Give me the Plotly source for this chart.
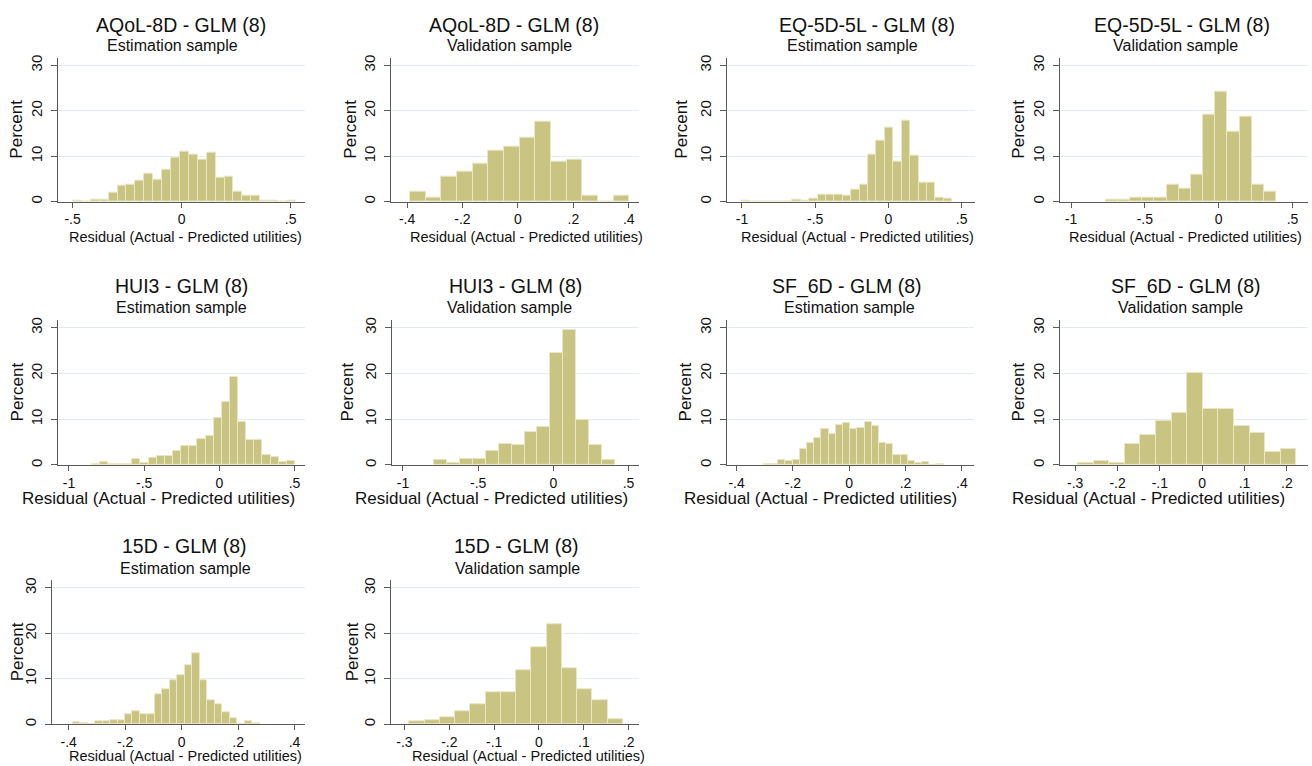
import plotly.graph_objects as go

# ---------------- data (bin start, bin width, percent per bin) ----------------
aqol_est_start, aqol_est_width = -0.4985, 0.0409
aqol_est_pct = [0.3, 0.1, 0.5, 0.5, 2.0, 3.5, 3.8, 4.7, 6.2, 4.9, 7.0, 9.8, 11.0,
                10.3, 9.3, 10.8, 5.2, 5.5, 2.3, 1.3, 1.3, 0.2, 0.2, 0.0, 0.2]

aqol_val_start, aqol_val_width = -0.390, 0.0566
aqol_val_pct = [2.3, 0.9, 5.6, 6.6, 8.4, 11.2, 12.2, 14.0, 17.7, 8.9, 9.3, 1.4, 0.0, 1.4]

eq_est_start, eq_est_width = -1.0, 0.0574
eq_est_pct = [0.2, 0.0, 0.0, 0.0, 0.0, 0.0, 0.4, 0.2, 0.7, 1.5, 1.6, 1.6, 1.4,
              2.6, 3.8, 10.4, 13.4, 16.4, 8.8, 17.8, 10.1, 4.1, 4.1, 1.0, 0.7]

eq_val_start, eq_val_width = -0.765, 0.0824
eq_val_pct = [0.5, 0.5, 0.9, 0.9, 0.9, 3.8, 2.8, 6.0, 19.1, 24.2, 15.4, 18.8, 3.8, 2.3]

hui_est_start, hui_est_width = -0.849, 0.0541
hui_est_pct = [0.3, 0.6, 0.2, 0.3, 0.2, 1.3, 0.5, 1.6, 2.0, 1.9, 3.1, 4.1, 4.1,
               5.6, 6.3, 10.2, 13.7, 19.3, 9.3, 5.5, 5.4, 2.2, 1.7, 0.7, 0.8]

hui_val_start, hui_val_width = -0.792, 0.0858
hui_val_pct = [1.0, 0.5, 1.4, 1.4, 3.0, 4.7, 4.3, 7.2, 8.4, 24.4, 29.6, 9.8, 4.3, 1.0]

sf_est_start, sf_est_width = -0.303, 0.02556
sf_est_pct = [0.3, 0.2, 1.2, 0.8, 1.2, 3.6, 4.8, 5.9, 7.8, 6.7, 8.7, 9.1, 7.8,
              8.0, 9.5, 8.5, 4.9, 4.7, 2.3, 2.1, 0.8, 0.5, 0.6, 0.0, 0.3]

sf_val_start, sf_val_width = -0.293, 0.0368
sf_val_pct = [0.5, 0.9, 0.5, 4.7, 6.5, 9.7, 11.3, 20.1, 12.2, 12.2, 8.5, 7.1, 2.9, 3.4]

d15_est_start, d15_est_width = -0.386, 0.0265
d15_est_pct = [0.4, 0.2, 0.0, 0.6, 0.7, 0.9, 0.9, 2.3, 2.8, 2.2, 2.2, 6.6, 7.7,
               9.7, 10.8, 12.9, 15.7, 9.6, 5.2, 4.4, 2.6, 1.3, 0.1, 0.7, 0.2]

d15_val_start, d15_val_width = -0.289, 0.034
d15_val_pct = [0.6, 1.0, 1.5, 2.9, 4.4, 7.1, 7.1, 11.9, 17.0, 22.0, 12.4, 7.7, 5.3, 1.1]

titles = ["AQoL-8D - GLM (8)", "AQoL-8D - GLM (8)", "EQ-5D-5L - GLM (8)", "EQ-5D-5L - GLM (8)",
          "HUI3 - GLM (8)", "HUI3 - GLM (8)", "SF_6D - GLM (8)", "SF_6D - GLM (8)",
          "15D - GLM (8)", "15D - GLM (8)"]
subtitles = ["Estimation sample", "Validation sample"] * 5

ticks_a = [-0.5, 0, 0.5]
ticks_a_txt = ["-.5", "0", ".5"]
ticks_b = [-0.4, -0.2, 0, 0.2, 0.4]
ticks_b_txt = ["-.4", "-.2", "0", ".2", ".4"]
ticks_c = [-1, -0.5, 0, 0.5]
ticks_c_txt = ["-1", "-.5", "0", ".5"]
ticks_d = [-0.3, -0.2, -0.1, 0, 0.1, 0.2]
ticks_d_txt = ["-.3", "-.2", "-.1", "0", ".1", ".2"]
y_ticks = [0, 10, 20, 30]
y_ticks_txt = ["0", "10", "20", "30"]

x_title = "Residual (Actual - Predicted utilities)"
y_title = "Percent"

# ---------------- layout geometry (pixels) ----------------
W, H = 1312, 766
# data, ticks, ticktext, xrange, (left, right, top, baseline), title_x, sub_x, xt_x, yt_x, row
panels = [
    ((aqol_est_start, aqol_est_width, aqol_est_pct), ticks_a, ticks_a_txt, [-0.567, 0.566], (58, 305, 55, 200), 181, 172, 186, 17, 0),
    ((aqol_val_start, aqol_val_width, aqol_val_pct), ticks_b, ticks_b_txt, [-0.458, 0.437], (391, 639, 55, 200), 514, 509, 526, 351, 0),
    ((eq_est_start, eq_est_width, eq_est_pct), ticks_c, ticks_c_txt, [-1.102, 0.591], (727, 975, 55, 200), 867, 852, 857, 682, 0),
    ((eq_val_start, eq_val_width, eq_val_pct), ticks_c, ticks_c_txt, [-1.075, 0.605], (1060, 1308, 55, 200), 1182, 1175, 1185, 1019, 0),
    ((hui_est_start, hui_est_width, hui_est_pct), ticks_c, ticks_c_txt, [-1.073, 0.570], (58, 305, 319, 465), 181, 181, 158, 17, 1),
    ((hui_val_start, hui_val_width, hui_val_pct), ticks_c, ticks_c_txt, [-1.073, 0.570], (392, 639, 319, 465), 515, 509, 491, 347, 1),
    ((sf_est_start, sf_est_width, sf_est_pct), ticks_b, ticks_b_txt, [-0.434, 0.443], (727, 974, 319, 465), 847, 849, 820, 685, 1),
    ((sf_val_start, sf_val_width, sf_val_pct), ticks_d, ticks_d_txt, [-0.336, 0.250], (1060, 1308, 319, 465), 1186, 1180, 1148, 1018, 1),
    ((d15_est_start, d15_est_width, d15_est_pct), ticks_b, ticks_b_txt, [-0.459, 0.437], (52, 305, 581, 726), 185, 186, 186, 17, 2),
    ((d15_val_start, d15_val_width, d15_val_pct), ticks_d, ticks_d_txt, [-0.330, 0.223], (391, 639, 581, 726), 516, 517, 528, 352, 2),
]

BAR = "rgb(201,196,129)"
BAR_EDGE = "rgb(234,231,200)"
AXIS = "#5a5a5a"
GRID = "#e0eef2"
FONT = "Liberation Sans, Arial, sans-serif"
TXT = "#111111"

fig = go.Figure()
layout = dict(
    width=W, height=H, margin=dict(l=0, r=0, t=0, b=0),
    paper_bgcolor="white", plot_bgcolor="white", showlegend=False,
    font=dict(family=FONT, color=TXT), bargap=0,
)
annotations = []

def px(x):
    return x / W

def py(y):
    return 1 - y / H

for i, (data, tv, tt, xr, box, tx, sx, xtx, ytx, row) in enumerate(panels):
    start, width, pct = data
    centers = [start + (k + 0.5) * width for k in range(len(pct))]
    n = "" if i == 0 else str(i + 1)
    fig.add_trace(go.Bar(
        x=centers, y=pct, width=[width] * len(pct),
        marker=dict(color=BAR, line=dict(color=BAR_EDGE, width=1)),
        xaxis="x" + n, yaxis="y" + n, hoverinfo="x+y",
    ))
    left, right, top, base = box
    layout["xaxis" + n] = dict(
        domain=[px(left), px(right)], range=xr, anchor="y" + n,
        tickvals=tv, ticktext=tt, showline=True, linecolor=AXIS, linewidth=1,
        ticks="outside", ticklen=5, tickcolor=AXIS, showgrid=False, zeroline=False,
        tickfont=dict(size=14, family=FONT, color=TXT), fixedrange=True,
        ticklabelstandoff=0,
    )
    layout["yaxis" + n] = dict(
        domain=[py(base), py(top)], range=[0, 31.7], anchor="x" + n,
        tickvals=y_ticks, ticktext=y_ticks_txt, tickangle=-90,
        showline=True, linecolor=AXIS, linewidth=1,
        ticks="outside", ticklen=6, tickcolor=AXIS,
        showgrid=True, gridcolor=GRID, gridwidth=1, zeroline=False,
        tickfont=dict(size=15, family=FONT, color=TXT), fixedrange=True,
        ticklabelstandoff=3,
    )
    title_y = [22, 285, 547][row]
    sub_y = [43, 307, 569][row]
    xt_y = [236, 499, 758][row]
    xt_size = [14.5, 17, 14.5][row]
    annotations.append(dict(text=titles[i], x=px(tx), y=py(title_y), xref="paper", yref="paper",
                            showarrow=False, xanchor="center", yanchor="middle",
                            font=dict(size=19.5, family=FONT, color=TXT)))
    annotations.append(dict(text=subtitles[i], x=px(sx), y=py(sub_y), xref="paper", yref="paper",
                            showarrow=False, xanchor="center", yanchor="middle",
                            font=dict(size=16, family=FONT, color=TXT)))
    annotations.append(dict(text=x_title, x=px(xtx), y=py(xt_y), xref="paper", yref="paper",
                            showarrow=False, xanchor="center", yanchor="middle",
                            font=dict(size=xt_size, family=FONT, color=TXT)))
    annotations.append(dict(text=y_title, x=px(ytx), y=py((top + base) / 2), xref="paper", yref="paper",
                            showarrow=False, xanchor="center", yanchor="middle", textangle=-90,
                            font=dict(size=17, family=FONT, color=TXT)))

layout["annotations"] = annotations
fig.update_layout(**layout)
fig.write_html("out.html", config={"displayModeBar": False},
               post_script="document.body.style.margin='0px';")
